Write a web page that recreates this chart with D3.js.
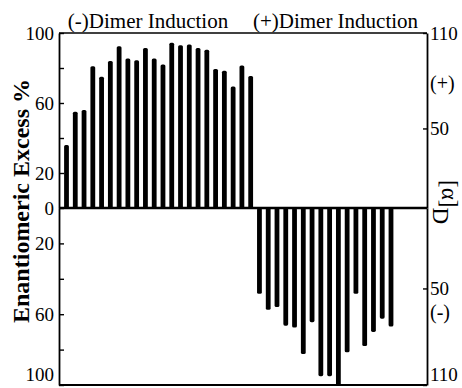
<!DOCTYPE html>
<html>
<head>
<meta charset="utf-8">
<script src="https://cdn.jsdelivr.net/npm/d3@7"></script>
<style>
  body { margin: 0; background: #fff; }
  svg { display: block; }
</style>
</head>
<body>
<script>
// Run numbers, in plotted order (left to right)
const runs = [1, 2, 3, 4, 5, 6, 7, 8, 9, 10, 11, 12, 13, 14, 15, 16, 17, 18, 19,
              20, 21, 22, 23, 24, 25, 26, 27, 28, 29, 30, 31, 32, 33, 34, 35, 36, 37, 38];
// Enantiomeric excess (%) of the runs under (-)-dimer induction (runs 1–22)
const minusDimerEE = [36, 55, 56, 81, 75, 84, 92.5, 85.5, 84.5, 91.5, 85.5, 82,
                      94.5, 93, 93.5, 91.5, 90.5, 79.5, 78.5, 69.5, 81.5, 75.5];
// Enantiomeric excess (%) of the runs under (+)-dimer induction (runs 23–38)
const plusDimerEE = [48.5, 57.5, 56, 66.5, 67.5, 82.5, 64.5, 95, 95, 100,
                     81.5, 48.5, 78, 70, 62.5, 67];
// Axis ticks and labels
const eeTicks = [0, 20, 40, 60, 80, 100];
const eeLabels = [0, 20, 60, 100];
const rotationTicks = [50, 110];
const groupTitles = ["(-)Dimer Induction", "(+)Dimer Induction"];

const W = 462, H = 388;
const serif = '"Liberation Serif", "Times New Roman", Times, serif';

const svg = d3.select("body").append("svg")
  .attr("width", W).attr("height", H)
  .style("font-family", serif);

const bars = runs.map((r, i) => i < minusDimerEE.length
  ? { run: r, ee: minusDimerEE[i], up: true }
  : { run: r, ee: plusDimerEE[i - minusDimerEE.length], up: false });

// Scales: upper half runs upward from the zero line, lower half downward
const x = d3.scalePoint().domain(runs).range([66.5, 391]);
const yUp = d3.scaleLinear().domain([0, 100]).range([208, 33]);
const yDown = d3.scaleLinear().domain([0, 100]).range([208, 385]);
const rotUp = d3.scaleLinear().domain([0, 110]).range([208, 33]);
const rotDown = d3.scaleLinear().domain([0, 110]).range([208, 385]);

const xLeft = 59, xRight = 427;
const barW = 4.8;

// Bars
svg.append("g").selectAll("rect")
  .data(bars)
  .join("rect")
  .attr("x", d => x(d.run) - barW / 2)
  .attr("width", barW)
  .attr("y", d => d.up ? yUp(d.ee) : yDown(0))
  .attr("height", d => d.up ? yUp(0) - yUp(d.ee) : yDown(d.ee) - yDown(0))
  .attr("rx", 1.6)
  .attr("fill", "#000");

// Axis styling; labels sitting on the bottom edge are nudged up to stay in view
function styleAxis(g) {
  g.selectAll("path.domain").attr("stroke", "#000").attr("stroke-width", 1.8);
  g.selectAll(".tick line").attr("stroke", "#000").attr("stroke-width", 1.4);
  g.selectAll("text").attr("font-family", serif).attr("font-size", 19).attr("fill", "#000");
}
function liftBottomLabel(g, scale) {
  g.selectAll(".tick text")
    .filter(d => scale(d) > 380)
    .attr("dy", "-0.22em");
}
const fmtEE = d => eeLabels.includes(d) ? d : "";

// Left axes (ticks pointing into the plot)
svg.append("g")
  .attr("transform", `translate(${xLeft},0)`)
  .call(d3.axisLeft(yUp).tickValues(eeTicks).tickSizeInner(-5).tickSizeOuter(0)
    .tickPadding(5).tickFormat(fmtEE))
  .call(styleAxis);

svg.append("g")
  .attr("transform", `translate(${xLeft},0)`)
  .call(d3.axisLeft(yDown).tickValues(eeTicks.filter(d => d > 0)).tickSizeInner(-5)
    .tickSizeOuter(0).tickPadding(5).tickFormat(fmtEE))
  .call(styleAxis)
  .call(g => liftBottomLabel(g, yDown));

// Right axes: specific rotation
svg.append("g")
  .attr("transform", `translate(${xRight},0)`)
  .call(d3.axisRight(rotUp).tickValues(rotationTicks).tickSizeInner(-4).tickSizeOuter(0).tickPadding(3))
  .call(styleAxis);

svg.append("g")
  .attr("transform", `translate(${xRight},0)`)
  .call(d3.axisRight(rotDown).tickValues(rotationTicks).tickSizeInner(-4).tickSizeOuter(0).tickPadding(3))
  .call(styleAxis)
  .call(g => liftBottomLabel(g, rotDown));

// Frame top/bottom edges and the zero line
svg.append("line").attr("x1", xLeft).attr("x2", xRight)
  .attr("y1", yUp(100)).attr("y2", yUp(100))
  .attr("stroke", "#000").attr("stroke-width", 1.6);
svg.append("line").attr("x1", xLeft).attr("x2", xRight)
  .attr("y1", yDown(100)).attr("y2", yDown(100))
  .attr("stroke", "#000").attr("stroke-width", 1.8);
svg.append("line").attr("x1", xLeft).attr("x2", xRight)
  .attr("y1", yUp(0)).attr("y2", yUp(0))
  .attr("stroke", "#000").attr("stroke-width", 2.6);

// Group titles above the frame
svg.append("text").attr("x", 148).attr("y", 27.5).attr("text-anchor", "middle")
  .attr("font-size", 21).text(groupTitles[0]);
svg.append("text").attr("x", 335.5).attr("y", 27.5).attr("text-anchor", "middle")
  .attr("font-size", 21).text(groupTitles[1]);

// Sign markers on the right axis
svg.append("text").attr("x", 430).attr("y", 90).attr("font-size", 20).text("(+)");
svg.append("text").attr("x", 430).attr("y", 319).attr("font-size", 20).text("(-)");

// Right axis title [α]D, reading downward
const rt = svg.append("text")
  .attr("transform", "translate(442,180) rotate(90)")
  .attr("font-size", 23);
rt.append("tspan").text("[α]");
rt.append("tspan").attr("dy", 9).text("D");

// Left axis title
svg.append("text")
  .attr("transform", "translate(29,201) rotate(-90)")
  .attr("text-anchor", "middle")
  .attr("font-size", 24).attr("font-weight", "bold")
  .text("Enantiomeric Excess %");
</script>
</body>
</html>
